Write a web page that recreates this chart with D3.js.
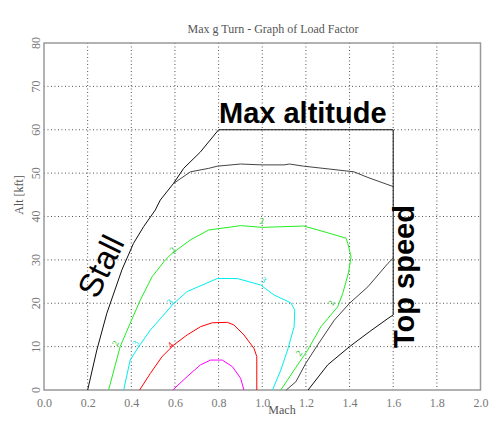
<!DOCTYPE html>
<html>
<head>
<meta charset="utf-8">
<script src="https://cdn.jsdelivr.net/npm/d3@7"></script>
<style>
  body { margin: 0; background: #fff; }
  svg { display: block; }
</style>
</head>
<body>
<div id="chart"></div>
<script>
// axis ticks
const machTicks = [0, 0.2, 0.4, 0.6, 0.8, 1.0, 1.2, 1.4, 1.6, 1.8, 2.0];
const altTicks = [0, 10, 20, 30, 40, 50, 60, 70, 80];

// flight envelope: stall line, max altitude, top speed  [mach, alt kft]
const envelope = [[0.2, 0], [0.242, 9.2], [0.288, 17.7], [0.357, 27.7], [0.41, 33.8], [0.457, 37.7],
  [0.51, 41.5], [0.533, 43.8], [0.593, 47.6], [0.64, 51.1], [0.717, 54.9], [0.8, 60],
  [1.6, 60], [1.6, 17.3], [1.576, 16.5], [1.49, 13.4], [1.4, 10], [1.3, 5.8], [1.21, 0]];

// load factor contours
const load1Upper = [[0.593, 47.6], [0.671, 50.3], [0.755, 51.1], [0.794, 51.6], [0.9, 52.1], [1.0, 51.9],
  [1.1, 51.9], [1.125, 52.1], [1.19, 51.6], [1.315, 50.9], [1.42, 50.3], [1.484, 49.0], [1.6, 46.9]];
const load1Lower = [[1.6, 30.4], [1.576, 29.2], [1.484, 23.8], [1.4, 20], [1.33, 16.1], [1.254, 10.4],
  [1.2, 6.2], [1.154, 1.9], [1.11, 0]];
const load2 = [[0.296, 0], [0.349, 10], [0.395, 15.4], [0.441, 20.7], [0.495, 26.1], [0.556, 30],
  [0.587, 31.5], [0.671, 34.6], [0.755, 36.9], [0.8, 37.2], [0.86, 37.6], [0.9, 37.9], [1.0, 37.5],
  [1.19, 37.8], [1.269, 36.7], [1.384, 35.0], [1.392, 33.8], [1.407, 30.7], [1.395, 27],
  [1.369, 22.3], [1.346, 19.2], [1.269, 14.6], [1.208, 9.2], [1.146, 4.6], [1.085, 0]];
const load3 = [[0.365, 0], [0.395, 6.9], [0.434, 10], [0.487, 13.8], [0.541, 16.9], [0.595, 20],
  [0.656, 22.7], [0.725, 24.2], [0.794, 25.7], [0.886, 25.7], [0.993, 24.2], [1.054, 21.9],
  [1.131, 20.1], [1.149, 18.4], [1.146, 14.6], [1.116, 9.2], [1.085, 4.6], [1.047, 0]];
const load4 = [[0.438, 0], [0.487, 3.8], [0.541, 7.7], [0.595, 10.4], [0.656, 12.7], [0.717, 14.6],
  [0.771, 15.5], [0.84, 15.6], [0.87, 15.0], [0.916, 12.7], [0.962, 9.6], [0.975, 7.7], [0.975, 0]];
const load5 = [[0.59, 0], [0.656, 3.1], [0.717, 5.8], [0.763, 6.9], [0.817, 6.9], [0.863, 5.4],
  [0.901, 2.7], [0.916, 0]];

// contour labels
const labelLoad = [2, 2, 2, 2, 2, 3, 3, 3, 4];
const labelMach = [0.326, 0.589, 0.998, 1.315, 1.168, 0.418, 0.575, 1.007, 0.579];
const labelAlt = [10.8, 32.3, 39.0, 20.1, 8.5, 10.8, 20.3, 25.4, 10.4];

const W = 500, H = 436;
const x = d3.scaleLinear().domain([0, 2]).range([44, 480.5]);
const y = d3.scaleLinear().domain([0, 80]).range([390, 43]);

const svg = d3.select('#chart').append('svg')
  .attr('width', W)
  .attr('height', H);

const serif = '"Liberation Serif", "Times New Roman", serif';
const sans = '"Liberation Sans", Arial, sans-serif';

// dotted grid
svg.append('g').selectAll('line')
  .data(machTicks.slice(1, -1))
  .enter().append('line')
  .attr('x1', d => x(d)).attr('x2', d => x(d))
  .attr('y1', y(80)).attr('y2', y(0))
  .attr('stroke', '#555').attr('stroke-width', 1)
  .attr('stroke-dasharray', '1,2.5');
svg.append('g').selectAll('line')
  .data(altTicks.slice(1, -1))
  .enter().append('line')
  .attr('x1', x(0)).attr('x2', x(2))
  .attr('y1', d => y(d)).attr('y2', d => y(d))
  .attr('stroke', '#555').attr('stroke-width', 1)
  .attr('stroke-dasharray', '1,2.5');

// axes
const xAxis = d3.axisBottom(x).tickValues(machTicks).tickSize(0).tickPadding(8)
  .tickFormat(d3.format('.1f'));
const gx = svg.append('g').attr('transform', 'translate(0,' + y(0) + ')').call(xAxis);
gx.select('.domain').remove();
gx.selectAll('text').attr('font-family', serif).attr('font-size', 12).attr('fill', '#777');

// y tick labels, turned like the original
svg.append('g').selectAll('text')
  .data(altTicks)
  .enter().append('text')
  .attr('transform', d => 'translate(' + (x(0) - 4) + ',' + y(d) + ') rotate(-90)')
  .attr('text-anchor', 'middle')
  .attr('font-family', serif).attr('font-size', 12).attr('fill', '#777')
  .text(d => d);

// frame
svg.append('rect')
  .attr('x', x(0)).attr('y', y(80))
  .attr('width', x(2) - x(0)).attr('height', y(0) - y(80))
  .attr('fill', 'none').attr('stroke', '#999').attr('stroke-width', 1.5);

// title and axis labels
svg.append('text')
  .attr('x', 273).attr('y', 33)
  .attr('text-anchor', 'middle')
  .attr('font-family', serif).attr('font-size', 12).attr('fill', '#555')
  .text('Max g Turn - Graph of Load Factor');
svg.append('text')
  .attr('x', 282).attr('y', 414)
  .attr('text-anchor', 'middle')
  .attr('font-family', serif).attr('font-size', 12).attr('fill', '#555')
  .text('Mach');
svg.append('text')
  .attr('transform', 'translate(23,195) rotate(-90)')
  .attr('text-anchor', 'middle')
  .attr('font-family', serif).attr('font-size', 12).attr('fill', '#555')
  .text('Alt [kft]');

// curves
const line = d3.line().x(d => x(d[0])).y(d => y(d[1]));
const curves = [
  { data: load5, color: '#ff00ff' },
  { data: load4, color: '#ff0000' },
  { data: load3, color: '#00eeee' },
  { data: load2, color: '#22ee22' },
  { data: load1Upper, color: '#444' },
  { data: load1Lower, color: '#444' },
  { data: envelope, color: '#111' }
];
svg.append('g').selectAll('path')
  .data(curves)
  .enter().append('path')
  .attr('d', d => line(d.data))
  .attr('fill', 'none')
  .attr('stroke', d => d.color)
  .attr('stroke-width', 1);

// contour labels, turned along the nearest contour segment
const byLoad = { 2: load2, 3: load3, 4: load4 };
const colorOf = { 2: '#22cc22', 3: '#00dddd', 4: '#ff0000' };
function angleAt(pts, m, a) {
  let best = 0, bd = Infinity;
  for (let i = 0; i < pts.length - 1; i++) {
    const cx = (x(pts[i][0]) + x(pts[i + 1][0])) / 2, cy = (y(pts[i][1]) + y(pts[i + 1][1])) / 2;
    const dd = (cx - x(m)) ** 2 + (cy - y(a)) ** 2;
    if (dd < bd) { bd = dd; best = i; }
  }
  let ang = Math.atan2(y(pts[best + 1][1]) - y(pts[best][1]), x(pts[best + 1][0]) - x(pts[best][0])) * 180 / Math.PI;
  if (ang > 90) ang -= 180;
  if (ang < -90) ang += 180;
  return ang;
}
svg.append('g').selectAll('text')
  .data(labelLoad)
  .enter().append('text')
  .attr('transform', (d, i) => 'translate(' + x(labelMach[i]) + ',' + y(labelAlt[i]) + ') rotate(' +
    angleAt(byLoad[d], labelMach[i], labelAlt[i]) + ')')
  .attr('text-anchor', 'middle')
  .attr('dy', '0.35em')
  .attr('font-family', serif).attr('font-size', 9)
  .attr('fill', d => colorOf[d])
  .text(d => d);

// annotations
svg.append('text')
  .attr('x', 219).attr('y', 123)
  .attr('font-family', sans).attr('font-weight', 'bold').attr('font-size', 29)
  .text('Max altitude');
svg.append('text')
  .attr('transform', 'translate(414,348) rotate(-90)')
  .attr('font-family', sans).attr('font-weight', 'bold').attr('font-size', 29)
  .text('Top speed');
svg.append('text')
  .attr('transform', 'translate(97,300) rotate(-64)')
  .attr('font-family', sans).attr('font-size', 33)
  .text('Stall');
</script>
</body>
</html>
